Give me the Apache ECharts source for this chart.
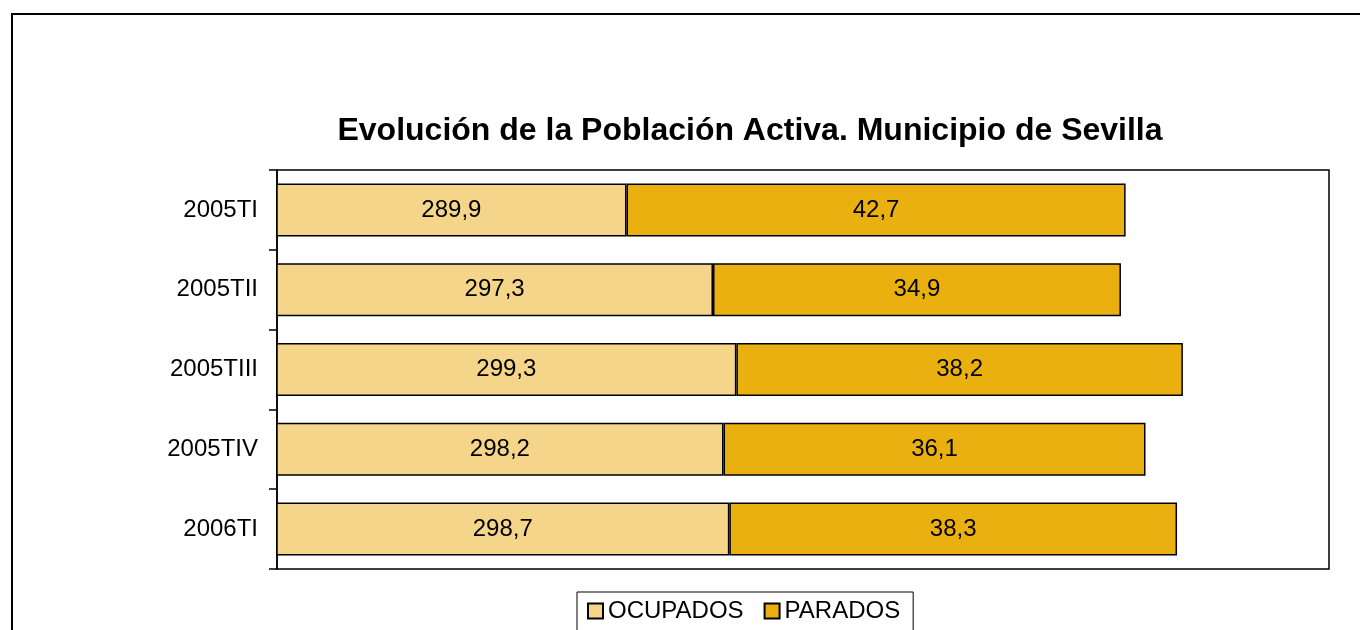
<!DOCTYPE html>
<html>
<head>
<meta charset="utf-8">
<script src="https://cdn.jsdelivr.net/npm/echarts@6/dist/echarts.min.js"></script>
<style>
  html, body { margin: 0; padding: 0; background: #fff; }
  #chart { width: 1360px; height: 630px; }
</style>
</head>
<body>
<div id="chart"></div>
<script>
const periodos = ['2005TI', '2005TII', '2005TIII', '2005TIV', '2006TI']
const ocupados = [289.9, 297.3, 299.3, 298.2, 298.7]
const parados = [42.7, 34.9, 38.2, 36.1, 38.3]

const font = '"Liberation Sans", Arial, sans-serif'
const fmt = p => p.value.toFixed(1).replace('.', ',')

const chart = echarts.init(document.getElementById('chart'))

chart.setOption({
  animation: false,
  textStyle: { fontFamily: font },
  title: {
    text: 'Evolución de la Población Activa. Municipio de Sevilla',
    left: 745,
    textAlign: 'center',
    top: 110,
    textStyle: { fontSize: 32, fontWeight: 'bold', color: '#000', fontFamily: font }
  },
  graphic: [
    {
      type: 'rect',
      shape: { x: 12, y: 14, width: 1400, height: 700 },
      style: { fill: 'none', stroke: '#000', lineWidth: 2 },
      silent: true
    }
  ],
  legend: {
    left: 577,
    top: 592,
    icon: 'rect',
    itemWidth: 15,
    itemHeight: 15,
    itemGap: 20,
    padding: [7, 13, 20, 10],
    borderColor: '#000',
    borderWidth: 1,
    textStyle: { fontSize: 24, color: '#000', fontFamily: font },
    data: ['OCUPADOS', 'PARADOS']
  },
  grid: {
    left: 277,
    right: 31,
    top: 170,
    bottom: 61,
    show: true,
    borderColor: '#000',
    borderWidth: 1.5,
    containLabel: false
  },
  xAxis: {
    type: 'value',
    min: 260,
    max: 350,
    show: false
  },
  yAxis: {
    type: 'category',
    inverse: true,
    data: periodos,
    axisLine: { show: true, lineStyle: { color: '#000', width: 1.5 } },
    axisTick: { show: true, length: 8, lineStyle: { color: '#000', width: 1.5 } },
    axisLabel: { fontSize: 24, color: '#000', margin: 19, fontFamily: font }
  },
  series: [
    {
      name: 'OCUPADOS',
      type: 'bar',
      stack: 'total',
      barWidth: 53,
      data: ocupados,
      itemStyle: { color: '#F5D589', borderColor: '#000', borderWidth: 1.5 },
      label: { show: true, position: 'inside', fontSize: 24, color: '#000', formatter: fmt, fontFamily: font }
    },
    {
      name: 'PARADOS',
      type: 'bar',
      stack: 'total',
      barWidth: 53,
      data: parados,
      itemStyle: { color: '#EAB010', borderColor: '#000', borderWidth: 1.5 },
      label: { show: true, position: 'inside', fontSize: 24, color: '#000', formatter: fmt, fontFamily: font }
    }
  ]
})
</script>
</body>
</html>
